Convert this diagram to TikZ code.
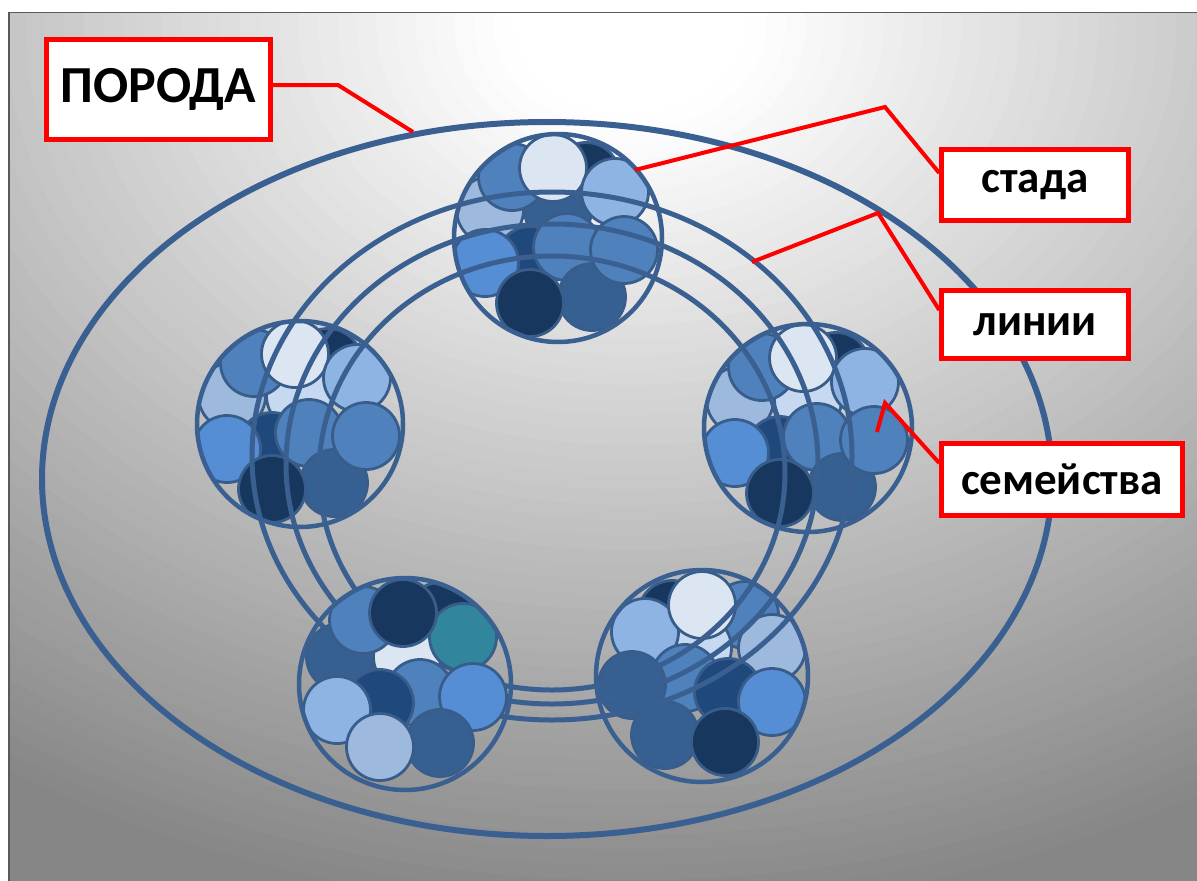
\documentclass[tikz,border=0pt]{standalone}
\usepackage{fontspec}
\setmainfont{Carlito}
\usetikzlibrary{calc}
\definecolor{ringc}{HTML}{3A5F91}
\definecolor{famline}{HTML}{385D8A}
\definecolor{cpale}{HTML}{DCE6F2}
\definecolor{clight}{HTML}{C6D9F1}
\definecolor{clgray}{HTML}{9DB9DD}
\definecolor{clblue}{HTML}{8EB4E3}
\definecolor{cblue}{HTML}{558ED5}
\definecolor{cmid}{HTML}{4F81BD}
\definecolor{cdark}{HTML}{376092}
\definecolor{cdkblue}{HTML}{1F497D}
\definecolor{cnavy}{HTML}{17375E}
\definecolor{cteal}{HTML}{31859C}
\definecolor{bgout}{HTML}{868686}
\definecolor{redc}{HTML}{FF0000}
\tikzset{
  fam/.style={draw=famline, line width=2.8},
  ringline/.style={draw=ringc, line width=5},
  herdline/.style={draw=ringc, line width=4.5},
  bigline/.style={draw=ringc, line width=6},
  ptr/.style={draw=redc, line width=4, line join=miter},
  label/.style={draw=redc, line width=4.5, fill=white, inner sep=0pt, font=\bfseries\fontsize{45}{52}\selectfont}
}
\newcommand{\fc}[4]{\draw[fam,fill=#4] (#1) ++(#2,#3) circle (33.5);}
\newcommand{\herdT}[2]{%
  \begin{scope}
    \clip (#1) circle (103);
    \fc{#1}{28}{-62}{cnavy}
    \fc{#1}{-68}{-28}{clgray}
    \fc{#1}{0}{-28}{#2}
    \fc{#1}{-46}{-61}{cmid}
    \fc{#1}{-5}{-70}{cpale}
    \fc{#1}{57}{-46}{clblue}
    \fc{#1}{-28}{22}{cdkblue}
    \fc{#1}{9}{9}{cmid}
    \fc{#1}{-73}{25}{cblue}
    \fc{#1}{34}{59}{cdark}
    \fc{#1}{-28}{65}{cnavy}
    \fc{#1}{66}{12}{cmid}
  \end{scope}}
\begin{document}
\begin{tikzpicture}[x=1pt,y=-1pt]
\useasboundingbox (0,0) rectangle (1197,881);
\fill[white] (0,0) rectangle (1197,881);
\begin{scope}
  \clip (9,12.5) rectangle (1197,881);
  \fill[bgout] (9,12.5) rectangle (1197,881);
  \foreach \r in {900,885,...,90} {
    \pgfmathsetmacro{\pc}{max(0,min(100,100*(1-(\r-100)/800)))}
    \fill[white!\pc!bgout] (630,25) ellipse [x radius=1.3*\r, y radius=\r];
  }
\end{scope}
\draw[line width=1.5, black!65] (9,881) -- (9,12.5) -- (1197,12.5);

% breed ellipse
\draw[bigline] (547,479) ellipse [x radius=505, y radius=357];

% herd centres
\coordinate (HT) at (558,238);
\coordinate (HL) at (300,424);
\coordinate (HR) at (808,428);
\coordinate (HBL) at (405,684);
\coordinate (HBR) at (702,676);

% families
\herdT{HT}{cdark}
\herdT{HL}{clight}
\herdT{HR}{clight}
\begin{scope}
  \clip (HBR) circle (105);
  \fc{HBR}{-30}{-62}{cnavy}
  \fc{HBR}{43}{-61}{cmid}
  \fc{HBR}{-4}{-28}{clight}
  \fc{HBR}{70}{-28}{clgray}
  \fc{HBR}{-57}{-44}{clblue}
  \fc{HBR}{0}{-71}{cpale}
  \fc{HBR}{-17}{2}{cmid}
  \fc{HBR}{-70}{9}{cdark}
  \fc{HBR}{26}{16}{cdkblue}
  \fc{HBR}{70}{26}{cblue}
  \fc{HBR}{-37}{59}{cdark}
  \fc{HBR}{23}{66}{cnavy}
\end{scope}

% lines (rings)
\draw[ringline] (552,456) ellipse [x radius=300, y radius=264];
\draw[ringline] (552,464) ellipse [x radius=266, y radius=240];
\draw[ringline] (552,473) ellipse [x radius=233, y radius=217];

% bottom-left herd on top of the rings
\begin{scope}
  \clip (HBL) circle (105);
  \fc{HBL}{35}{-68}{cnavy}
  \fc{HBL}{-65}{-27}{cdark}
  \fc{HBL}{2}{-27}{cpale}
  \fc{HBL}{58}{-47}{cteal}
  \fc{HBL}{-42}{-64}{cmid}
  \fc{HBL}{-2}{-71}{cnavy}
  \fc{HBL}{15}{9}{cmid}
  \fc{HBL}{-25}{19}{cdkblue}
  \fc{HBL}{68}{13}{cblue}
  \fc{HBL}{-68}{26}{clblue}
  \fc{HBL}{35}{59}{cdark}
  \fc{HBL}{-25}{63}{clgray}
\end{scope}

% herd outlines
\draw[herdline] (HT) circle (104);
\draw[herdline] (HL) circle (103);
\draw[herdline] (HR) circle (104);
\draw[herdline] (HBL) circle (106);
\draw[herdline] (HBR) circle (106);

% labels
\node[label, minimum width=224, minimum height=100, font=\bfseries\fontsize{52}{60}\selectfont] (poroda) at (158.5,89.5) {ПОРОДА};
\node[label, minimum width=187, minimum height=71] (stada) at (1035,185) {стада};
\node[label, minimum width=187, minimum height=68] (linii) at (1035,324.5) {линии};
\node[label, minimum width=241, minimum height=72] (semeistva) at (1062,479.5) {семейства};

% pointers
\coordinate (pK) at (338,85);
\coordinate (pE) at (413,132);
\coordinate (sK) at (885,107);
\coordinate (sE) at (635,170);
\coordinate (lK) at (878,213);
\coordinate (lE) at (752,262);
\coordinate (fK) at (885,403);
\coordinate (fE) at (877,432);
\draw[ptr] ([yshift=4.5pt]poroda.east) -- (pK) -- (pE);
\draw[ptr] ([yshift=12pt]stada.west) -- (sK) -- (sE);
\draw[ptr] ([yshift=14.5pt]linii.west) -- (lK) -- (lE);
\draw[ptr] ([yshift=16.5pt]semeistva.west) -- (fK) -- (fE);
\end{tikzpicture}
\end{document}
